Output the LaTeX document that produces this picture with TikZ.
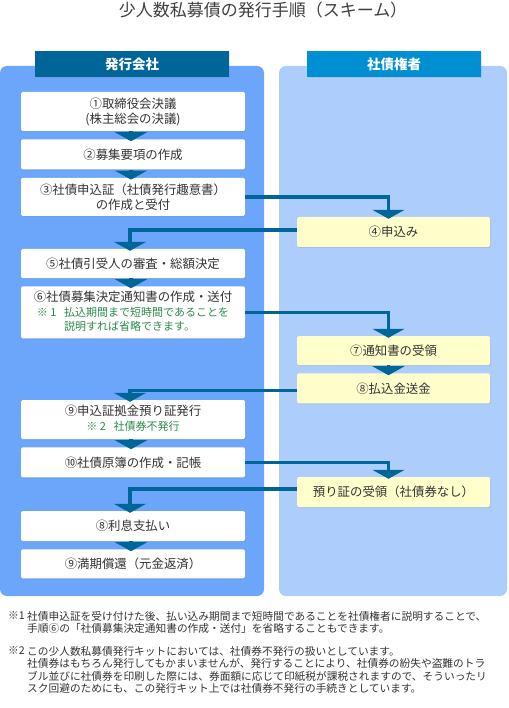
\documentclass[tikz,border=0pt]{standalone}
\usepackage{fontspec}
\setmainfont{Noto Sans CJK JP}
\usepackage{tikz}
\usetikzlibrary{arrows.meta,positioning,shadows}
\definecolor{cPanelL}{HTML}{6CA6FA}
\definecolor{cPanelR}{HTML}{ADCDFC}
\definecolor{cHeadL}{HTML}{00669A}
\definecolor{cHeadR}{HTML}{008FD3}
\definecolor{cLine}{HTML}{00669A}
\definecolor{cPaper}{HTML}{FFFFCC}
\definecolor{cNote}{HTML}{2B8A4B}
\definecolor{cText}{HTML}{333333}
\newcommand{\hdr}[1]{{\bfseries\fontsize{13.5}{16}\selectfont #1}}
\newcommand{\kome}[1]{#1\hspace{0.7em}}
\newcommand{\memo}[1]{{\color{cNote}\fontsize{11}{14}\selectfont
  \begin{tabular}[t]{@{}l@{}}#1\end{tabular}}}

\begin{document}
\begin{tikzpicture}[
    x=1pt, y=-1pt,
    font=\fontsize{12.4}{15}\selectfont, text=cText,
    panel/.style={rounded corners=7pt, draw=none},
    head/.style={fill=#1, text=white, minimum height=26pt, inner sep=0pt,
                 drop shadow={shadow xshift=1pt, shadow yshift=-1pt, opacity=.2}},
    stage/.style={fill=white, rounded corners=1.5pt, minimum width=224pt,
                  minimum height=30pt, inner sep=0pt, align=center,
                  drop shadow={shadow xshift=1pt, shadow yshift=-1pt, opacity=.18}},
    recv/.style={stage, fill=cPaper, minimum width=193pt},
    flow/.style={-{Triangle[length=9pt,width=32pt]}, line width=3.5pt,
                 draw=cLine, shorten >=-2pt},
    fnote/.style={anchor=north west, inner sep=0pt, align=left, text=black!80,
                  font=\fontsize{10.7}{12.4}\selectfont},
    node distance=8pt,
  ]
  \useasboundingbox (0,0) rectangle (508,708);
  \node[font=\fontsize{17}{19}\selectfont, text=black!75] (title) at (263,10)
    {少人数私募債の発行手順（スキーム）};

  % columns
  \fill[panel, cPanelL] (0,66) rectangle (264,596);
  \fill[panel, cPanelR] (279,66) rectangle (507,596);
  \node[head=cHeadL, minimum width=194pt] (hl) at (132,64) {\hdr{発行会社}};
  \node[head=cHeadR, minimum width=174pt] (hr) at (394,64) {\hdr{社債権者}};

  % issuer side
  \node[stage, minimum height=39pt] (b1) at (133,111.5) {①取締役会決議\\(株主総会の決議)};
  \node[stage, below=of b1] (b2) {②募集要項の作成};
  \node[stage, minimum height=38pt, below=of b2] (b3) {③社債申込証（社債発行趣意書）\\の作成と受付};
  \node[stage, minimum height=29pt] (b5) at (133,263.5) {⑤社債引受人の審査・総額決定};
  \node[stage, minimum height=52pt, below=of b5] (b6)
    {⑥社債募集決定通知書の作成・送付\\
     \memo{\kome{※ 1}払込期間まで短時間であることを\\
           \phantom{\kome{※ 1}}説明すれば省略できます。}};
  \node[stage, minimum height=39pt] (b9) at (133,419.5)
    {⑨申込証拠金預り証発行\\\memo{\kome{※ 2}社債券不発行}};
  \node[stage, below=of b9] (b10) {⑩社債原簿の作成・記帳};
  \node[stage] (b11) at (133,526) {⑧利息支払い};
  \node[stage, minimum height=29pt, below=of b11] (b12) {⑨満期償還（元金返済）};

  % bondholder side
  \node[recv] (r1) at (393.5,232) {④申込み};
  \node[recv, minimum height=29pt] (r2) at (393.5,350.5) {⑦通知書の受領};
  \node[recv, below=of r2] (r3) {⑧払込金送金};
  \node[recv] (r4) at (393.5,492) {預り証の受領（社債券なし）};

  % flow
  \draw[flow] ([xshift=-2pt]b1.south) -- ([xshift=-2pt]b2.north);
  \draw[flow] ([xshift=-2pt]b2.south) -- ([xshift=-2pt]b3.north);
  \draw[flow] (b3.east) -| ([xshift=-5pt]r1.north);
  \draw[flow] ([yshift=2pt]r1.west) -| ([xshift=-3pt]b5.north);
  \draw[flow] ([xshift=-2pt]b5.south) -- ([xshift=-2pt]b6.north);
  \draw[flow] (b6.east) -| ([xshift=-5pt]r2.north);
  \draw[flow] ([xshift=-5pt]r2.south) -- ([xshift=-5pt]r3.north);
  \draw[flow] ([yshift=-2pt]r3.west) -| ([xshift=-3pt]b9.north);
  \draw[flow] ([xshift=-2pt]b9.south) -- ([xshift=-2pt]b10.north);
  \draw[flow] (b10.east) -| ([xshift=-5pt]r4.north);
  \draw[flow] ([yshift=3pt]r4.west) -| ([xshift=-3pt]b11.north);
  \draw[flow] ([xshift=-2pt]b11.south) -- ([xshift=-2pt]b12.north);

  % notes
  \node[fnote] (m1) at (8,611) {※1};
  \node[fnote] (n1) at (27,611)
    {社債申込証を受け付けた後、払い込み期間まで短時間であることを社債権者に説明することで、\\
     手順⑥の「社債募集決定通知書の作成・送付」を省略することもできます。};
  \node[fnote] (m2) at (8,646) {※2};
  \node[fnote] (n2) at (27,646)
    {この少人数私募債発行キットにおいては、社債券不発行の扱いとしています。\\
     社債券はもちろん発行してもかまいませんが、発行することにより、社債券の紛失や盗難のトラ\\
     ブル並びに社債券を印刷した際には、券面額に応じて印紙税が課税されますので、そういったリ\\
     スク回避のためにも、この発行キット上では社債券不発行の手続きとしています。};
\end{tikzpicture}
\end{document}
